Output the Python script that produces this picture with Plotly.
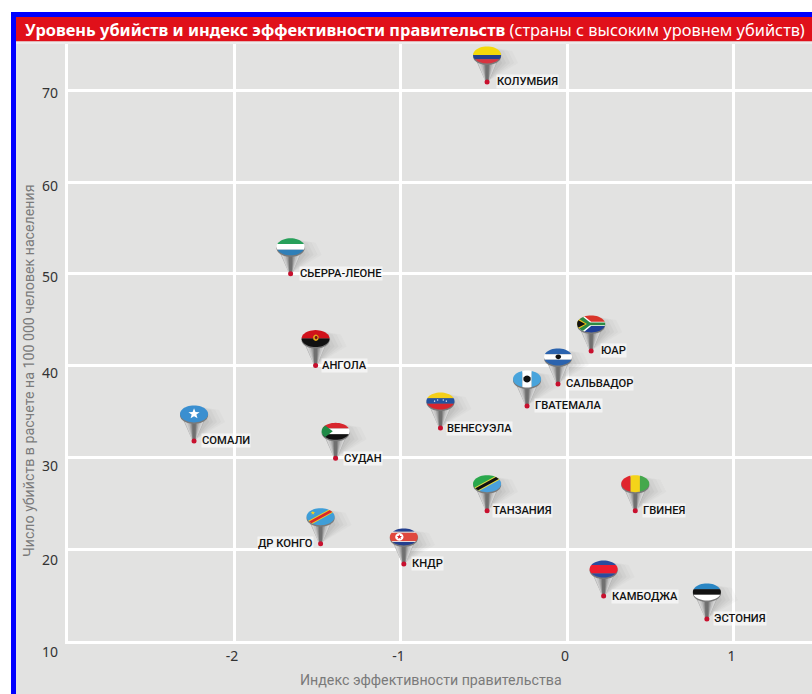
import math
import plotly.graph_objects as go

# ---- data ----
countries = ["КОЛУМБИЯ", "СЬЕРРА-ЛЕОНЕ", "АНГОЛА", "ЮАР", "САЛЬВАДОР", "ГВАТЕМАЛА", "ВЕНЕСУЭЛА", "СОМАЛИ",
             "СУДАН", "ТАНЗАНИЯ", "ГВИНЕЯ", "ДР КОНГО", "КНДР", "КАМБОДЖА", "ЭСТОНИЯ"]
gov_effectiveness = [-0.48, -1.66, -1.51, 0.145, -0.054, -0.24, -0.76, -2.24,
                     -1.39, -0.48, 0.41, -1.48, -0.98, 0.22, 0.84]
homicide_rate = [70.9, 50.0, 40.0, 41.6, 38.0, 35.6, 33.2, 31.8,
                 29.9, 24.2, 24.2, 20.6, 18.4, 14.9, 12.4]
x_ticks = [-2, -1, 0, 1]
y_ticks = [10, 20, 30, 40, 50, 60, 70]

# ---- page geometry ----
W, H = 812, 694
L, R, T, B = 68, 812, 44, 641
PX_X, PX_Y = 166.5, 9.18   # pixels per data unit
x_range = [(L - 567) / PX_X, (R - 567) / PX_X]
y_range = [10, 10 + (B - T) / PX_Y]
GRAY = "#e2e2e1"
FONT = "Roboto"

# ---- flags: polygons in [-1,1] square, y up, clipped to the ellipse ----
def hbands(*bands):
    total = sum(b[1] for b in bands)
    out, y = [], 1.0
    for col, f in bands:
        y2 = y - 2 * f / total
        out.append((col, [(-1, y), (1, y), (1, y2), (-1, y2)]))
        y = y2
    return out

def vbands(*cols):
    n = len(cols)
    return [(c, [(-1 + 2 * i / n, 1), (-1 + 2 * (i + 1) / n, 1), (-1 + 2 * (i + 1) / n, -1), (-1 + 2 * i / n, -1)])
            for i, c in enumerate(cols)]

def dot(col, cx, cy, rx, ry):
    return [(col, [(cx + rx * math.cos(a / 12 * 2 * math.pi), cy + ry * math.sin(a / 12 * 2 * math.pi)) for a in range(12)])]

def star(col, cx, cy, r, asp=1.55):
    pts = []
    for i in range(10):
        a = math.pi / 2 + i * math.pi / 5
        q = r if i % 2 == 0 else r * 0.42
        pts.append((cx + q * math.cos(a), cy + q * math.sin(a) * asp))
    return [(col, pts)]

def diag(col, w):
    """Band from lower-left to upper-right with half-height w."""
    return [(col, [(-1, -0.9 - w), (-1, -0.9 + w), (1, 0.9 + w), (1, 0.9 - w)])]

FLAGS = {
    "КОЛУМБИЯ": hbands(("#f5d90a", 2), ("#24408e", 1), ("#d8343f", 1)),
    "СЬЕРРА-ЛЕОНЕ": hbands(("#27a05a", 1), ("#ffffff", 1), ("#2f7fb8", 1)),
    "АНГОЛА": hbands(("#d0121b", 1), ("#111111", 1)) + dot("#e0a818", 0.02, 0.1, 0.2, 0.38) + dot("#7a1015", 0.04, 0.12, 0.1, 0.2),
    "ЮАР": hbands(("#d9352a", 1), ("#2c8a45", 0.5), ("#1f3f98", 1))
        + [("#ffffff", [(-1, 1), (-0.55, 1), (0, 0.26), (1, 0.26), (1, -0.26), (0, -0.26), (-0.55, -1), (-1, -1)])]
        + [("#2c8a45", [(-1, 1), (-0.72, 1), (-0.08, 0.17), (1, 0.17), (1, -0.17), (-0.08, -0.17), (-0.72, -1), (-1, -1)])]
        + [("#f2c21a", [(-1, 0.7), (-0.3, 0), (-1, -0.7)])]
        + [("#111111", [(-1, 0.5), (-0.42, 0), (-1, -0.5)])],
    "САЛЬВАДОР": hbands(("#2b63ae", 1), ("#ffffff", 1), ("#2b63ae", 1)) + dot("#111111", 0.02, 0.02, 0.2, 0.28),
    "ГВАТЕМАЛА": vbands("#48a4dc", "#ffffff", "#48a4dc") + dot("#111111", 0, 0, 0.27, 0.42),
    "ВЕНЕСУЭЛА": hbands(("#f4cf1a", 1), ("#24529e", 1), ("#d8262e", 1))
        + dot("#ffffff", -0.42, -0.02, 0.05, 0.08) + dot("#ffffff", -0.2, 0.12, 0.05, 0.08)
        + dot("#ffffff", 0.2, 0.12, 0.05, 0.08) + dot("#ffffff", 0.42, -0.02, 0.05, 0.08),
    "СОМАЛИ": hbands(("#3a8fd0", 1)) + star("#ffffff", 0, 0, 0.42),
    "СУДАН": hbands(("#d8262e", 1), ("#ffffff", 1), ("#111111", 1)) + [("#1f8a46", [(-1, 1), (-0.2, 0), (-1, -1)])],
    "ТАНЗАНИЯ": [("#2aa84c", [(-1, 1), (1, 1), (-1, -1)]), ("#4aa0dc", [(1, 1), (1, -1), (-1, -1)])]
        + diag("#e6dc40", 0.34) + diag("#111111", 0.2),
    "ГВИНЕЯ": vbands("#e0262e", "#f4d41a", "#45a84c"),
    "ДР КОНГО": hbands(("#3f9ed8", 1)) + diag("#f0d020", 0.3) + diag("#d8262e", 0.18) + star("#f0d020", -0.55, 0.45, 0.17),
    "КНДР": hbands(("#243f8e", 1.6), ("#ffffff", 0.4), ("#e0483e", 4), ("#ffffff", 0.4), ("#243f8e", 1.6))
        + dot("#ffffff", -0.32, 0, 0.3, 0.46) + star("#d9262e", -0.32, 0, 0.2),
    "КАМБОДЖА": hbands(("#2a4c9e", 1), ("#ee1c2e", 2), ("#2a4c9e", 0.9)),
    "ЭСТОНИЯ": hbands(("#2a86c4", 1), ("#111111", 1), ("#ffffff", 1)),
}

RX, RY, LIFT = 14, 8.5, 27   # flag half-axes and height above the tip, pixels
ELLIPSE = [(RX * math.cos(i / 48 * 2 * math.pi), LIFT + RY * math.sin(i / 48 * 2 * math.pi)) for i in range(48)]

def clip(poly, window):
    """Sutherland-Hodgman against a counter-clockwise convex window."""
    out = poly
    for i in range(len(window)):
        ax, ay = window[i]
        bx, by = window[(i + 1) % len(window)]
        inside = lambda p: (bx - ax) * (p[1] - ay) - (by - ay) * (p[0] - ax) >= 0
        src, out = out, []
        for j, p in enumerate(src):
            q = src[j - 1]
            if inside(p) != inside(q):
                d1 = (bx - ax) * (q[1] - ay) - (by - ay) * (q[0] - ax)
                d2 = (bx - ax) * (p[1] - ay) - (by - ay) * (p[0] - ax)
                t = d1 / (d1 - d2)
                out.append((q[0] + t * (p[0] - q[0]), q[1] + t * (p[1] - q[1])))
            if inside(p):
                out.append(p)
        if not out:
            break
    return out

def path(pts):
    return "M" + " L".join(f"{a:.2f},{b:.2f}" for a, b in pts) + " Z"

def pin_shape(xv, yv, d, color, opacity=1.0):
    return dict(type="path", xref="x", yref="y", xsizemode="pixel", ysizemode="pixel", xanchor=xv, yanchor=yv,
                path=d, fillcolor=color, line=dict(width=0), opacity=opacity, layer="between")

shapes = []
for name, xv, yv in zip(countries, gov_effectiveness, homicide_rate):
    # soft shadow to the right of the funnel
    for w, op in [(31, 0.05), (27, 0.06), (23, 0.07), (19, 0.08), (15, 0.10)]:
        shapes.append(pin_shape(xv, yv, path([(1, 1), (2, LIFT + 8), (w - 6, LIFT + 4), (w, LIFT - 8)]), "#808080", op))
    # funnel: dark rim line, pale flanks, darker toward the axis
    for w, col in [(13.4, "#a8a8a8"), (12.6, "#d2d2d2"), (9.5, "#c2c2c2"), (6.5, "#a8a8a8"), (4, "#8c8c8c"), (2, "#707070")]:
        shapes.append(pin_shape(xv, yv, path([(-w, LIFT), (w, LIFT), (1.4, 0), (-1.4, 0)]), col))
    shapes.append(pin_shape(xv, yv, path([(x, y - 1.5) for x, y in ELLIPSE]), "#7a7a7a"))
    # flag
    for col, poly in FLAGS[name]:
        px = [(a * RX, LIFT + b * RY) for a, b in poly]
        if (sum(px[i][0] * px[(i + 1) % len(px)][1] - px[(i + 1) % len(px)][0] * px[i][1] for i in range(len(px)))) < 0:
            px = px[::-1]
        c = clip(px, ELLIPSE)
        if len(c) > 2:
            shapes.append(pin_shape(xv, yv, path(c), col))

def page_rect(x0, y0, x1, y1, color):
    return dict(type="rect", xref="paper", yref="paper", line=dict(width=0), fillcolor=color, layer="above",
                x0=(x0 - L) / (R - L), x1=(x1 - L) / (R - L), y0=(B - y1) / (B - T), y1=(B - y0) / (B - T))

shapes += [
    page_rect(0, 0, 812, 12, "#ffffff"),
    page_rect(0, 0, 11, 694, "#ffffff"),
    page_rect(11, 12, 812, 17, "#0000ff"),
    page_rect(11, 12, 16, 694, "#0000ff"),
    page_rect(16, 17, 812, 41.5, "#e0101a"),
    page_rect(16, 41.5, 812, 44, "#ececec"),
]

annotations = []
label_gap = {"КОЛУМБИЯ": 9, "СЬЕРРА-ЛЕОНЕ": 8, "АНГОЛА": 5, "ЮАР": 9, "САЛЬВАДОР": 7, "ГВАТЕМАЛА": 7, "ВЕНЕСУЭЛА": 6,
             "СОМАЛИ": 7, "СУДАН": 7, "ТАНЗАНИЯ": 5, "ГВИНЕЯ": 7, "ДР КОНГО": -7, "КНДР": 7, "КАМБОДЖА": 7, "ЭСТОНИЯ": 6}
for name, xv, yv in zip(countries, gov_effectiveness, homicide_rate):
    gap = label_gap[name]
    annotations.append(dict(x=xv, y=yv, xref="x", yref="y", text=name, showarrow=False,
                            xanchor="right" if gap < 0 else "left", yanchor="middle",
                            xshift=gap, yshift=0,
                            font=dict(family=FONT, size=11.2, color="#111111", weight=500),
                            bgcolor="rgba(255,255,255,0.6)", borderpad=0))

# y tick labels sit a little under their grid lines in the original
y_label_shift = {70: 2.5, 60: 3, 50: 3, 40: 7, 30: 8, 20: 10, 10: 10}
for v in y_ticks:
    annotations.append(dict(x=0, y=v, xref="paper", yref="y", text=str(v), showarrow=False, xanchor="right",
                            yanchor="middle", xshift=-8, yshift=-y_label_shift[v],
                            font=dict(family="Noto Sans", size=14, color="#333333")))

annotations += [
    dict(x=(23 - L) / (R - L), y=(B - 29) / (B - T), xref="paper", yref="paper", xanchor="left", yanchor="middle",
         showarrow=False, font=dict(family="Noto Sans", size=16.4, color="#ffffff"),
         text="<b>Уровень убийств и индекс эффективности правительств</b> (страны с высоким уровнем убийств)"),
    dict(x=(431 - L) / (R - L), y=(B - 680) / (B - T), xref="paper", yref="paper", xanchor="center", yanchor="middle",
         showarrow=False, font=dict(family=FONT, size=14.2, color="#7a7a7a"),
         text="Индекс эффективности правительства"),
    dict(x=(29 - L) / (R - L), y=(B - 371) / (B - T), xref="paper", yref="paper", xanchor="center", yanchor="middle",
         showarrow=False, textangle=-90, font=dict(family=FONT, size=14.2, color="#7a7a7a"),
         text="Число убийств в расчете на 100 000 человек населения"),
]

fig = go.Figure(go.Scatter(x=gov_effectiveness, y=homicide_rate, mode="markers", hoverinfo="skip",
                           marker=dict(color="#c8102e", size=5, line=dict(width=0)), cliponaxis=False))
fig.update_layout(
    width=W, height=H, margin=dict(l=L, r=W - R, t=T, b=H - B), showlegend=False,
    paper_bgcolor=GRAY, plot_bgcolor=GRAY, shapes=shapes, annotations=annotations,
    xaxis=dict(range=x_range, tickvals=x_ticks, ticktext=[str(v) for v in x_ticks], showgrid=True, gridcolor="#ffffff",
               gridwidth=3, zeroline=False, showline=True, linecolor="#ffffff", linewidth=3,
               ticks="", ticklabelshift=-2,
               tickfont=dict(family="Noto Sans", size=14, color="#333333")),
    yaxis=dict(range=y_range, tickvals=y_ticks, showticklabels=False, showgrid=True, gridcolor="#ffffff",
               gridwidth=3, zeroline=False, showline=True, linecolor="#ffffff", linewidth=3),
)
fig.write_html("out.html", config={"displayModeBar": False}, post_script="document.body.style.margin='0';")
